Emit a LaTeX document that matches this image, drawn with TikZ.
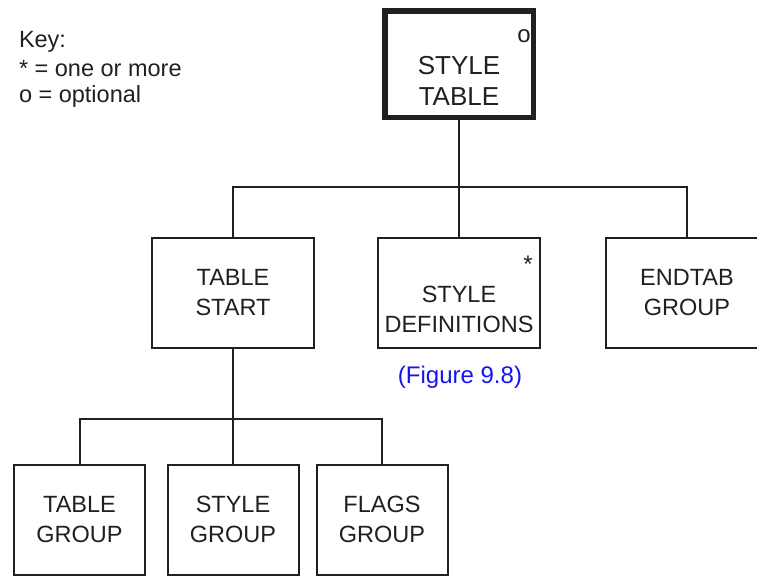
\documentclass[tikz,border=0pt]{standalone}
\usepackage{fontspec}
\setmainfont{Liberation Sans}
\definecolor{ink}{RGB}{35,31,32}
\definecolor{figblue}{RGB}{20,20,240}
\begin{document}
\begin{tikzpicture}[x=1pt,y=-1pt,
  every node/.style={inner sep=0pt, outer sep=0pt, text=ink},
  link/.style={draw=ink, line width=2pt},
  midbox/.style={draw=ink, line width=2pt, minimum width=162pt, minimum height=110pt, align=center, font=\fontsize{23.5}{30}\selectfont},
  lowbox/.style={draw=ink, line width=2pt, minimum width=131pt, minimum height=110pt, align=center, font=\fontsize{23.5}{30}\selectfont},
  topbox/.style={draw=ink, line width=5.5pt, minimum width=148.5pt, minimum height=106.5pt},
  keytext/.style={anchor=base west, font=\fontsize{23.5}{27.5}\selectfont},
  marktext/.style={anchor=base, font=\fontsize{24}{28}\selectfont}
]
\useasboundingbox (0,0) rectangle (757,576);
\clip (0,0) rectangle (757,576);

% key
\node[keytext] (k1) at (19,47) {Key:};
\node[keytext] (k2) at (19,76) {* = one or more};
\node[keytext] (k3) at (19,102) {o = optional};

% top box
\node[topbox] (top) at (459,64) {};
\node[align=center, font=\fontsize{26}{31}\selectfont] (toptext) at (459,80.5) {STYLE\\TABLE};
\node[marktext] (topmark) at (524,42) {o};

% middle row
\node[midbox] (tstart) at (233,293) {TABLE\\START};
\node[midbox] (sdef) at (459,293) {};
\node[align=center, font=\fontsize{23.5}{30}\selectfont] (sdeftext) at (459,309.5) {STYLE\\DEFINITIONS};
\node[marktext] (sdefmark) at (528,272) {*};
\node[midbox] (endtab) at (687,293) {ENDTAB\\GROUP};
\node[anchor=base, font=\fontsize{24}{28}\selectfont, text=figblue] (figref) at (460,383) {(Figure 9.8)};

% bottom row
\node[lowbox] (tgroup) at (79.5,519.8) {TABLE\\GROUP};
\node[lowbox] (sgroup) at (233,519.8) {STYLE\\GROUP};
\node[lowbox] (fgroup) at (382,519.8) {FLAGS\\GROUP};

% connectors
\coordinate (j1) at (459,187);
\coordinate (j2) at (233,419);
\draw[link] (top.south) -- (j1);
\draw[link] (tstart.north) |- (j1) -| (endtab.north);
\draw[link] (j1) -- (sdef.north);
\draw[link] (tstart.south) -- (j2);
\draw[link] (tgroup.north) |- (j2) -| (fgroup.north);
\draw[link] (j2) -- (sgroup.north);
\end{tikzpicture}
\end{document}
